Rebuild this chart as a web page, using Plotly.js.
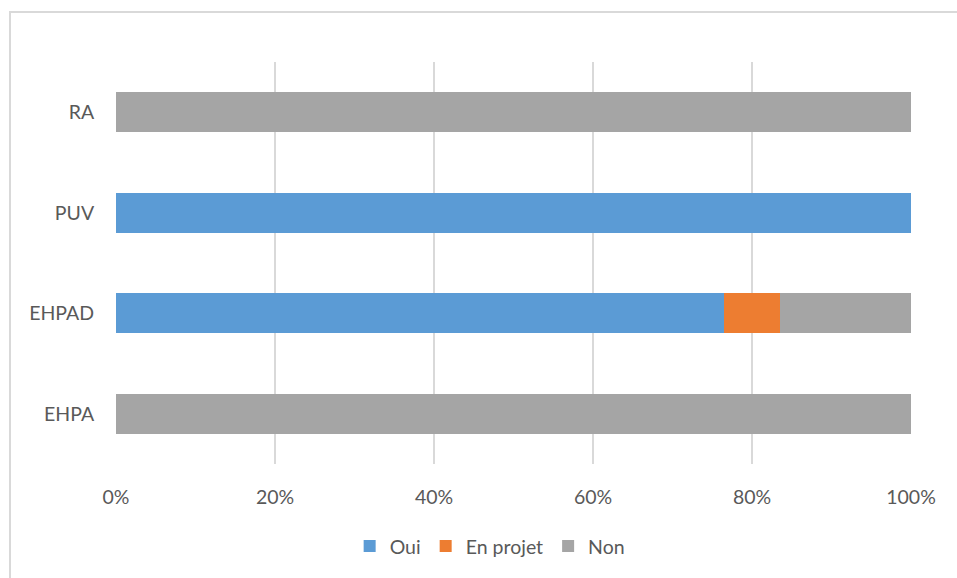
<!DOCTYPE html>
<html>
<head>
<meta charset="utf-8">
<script src="https://cdn.plot.ly/plotly-3.0.1.min.js"></script>
<style>
html,body{margin:0;padding:0;background:#fff;}
#frame{position:absolute;left:9px;top:11px;width:960px;height:580px;border-left:2px solid #d9d9d9;border-top:2px solid #d9d9d9;box-sizing:border-box;pointer-events:none;z-index:5;}
#chart{position:absolute;left:0;top:0;width:957px;height:578px;}
</style>
</head>
<body>
<div id="chart"></div>
<div id="frame"></div>
<script>
const categories = ["EHPA", "EHPAD", "PUV", "RA"];
const seriesNames = ["Oui", "En projet", "Non"];
const oui = [0, 0.765, 1, 0];
const enProjet = [0, 0.07, 0, 0];
const non = [1, 0.165, 0, 1];
const colors = ["#5b9bd5", "#ed7d31", "#a5a5a5"];
const xTickVals = [0, 0.2, 0.4, 0.6, 0.8, 1];
const xTickText = ["0%", "20%", "40%", "60%", "80%", "100%"];

const values = [oui, enProjet, non];
const traces = values.map((v, i) => ({
  type: "bar",
  orientation: "h",
  name: seriesNames[i],
  y: categories,
  x: v,
  marker: {color: colors[i], line: {width: 0}},
  hoverinfo: "x+y+name"
}));

const layout = {
  width: 957,
  height: 578,
  barmode: "stack",
  bargap: 0.605,
  margin: {l: 116, r: 46, t: 62, b: 112},
  paper_bgcolor: "#ffffff",
  plot_bgcolor: "#ffffff",
  font: {family: "Lato, 'Open Sans', sans-serif", size: 19.5, color: "#595959"},
  xaxis: {
    range: [0, 1],
    tickvals: xTickVals,
    ticktext: xTickText,
    showgrid: true,
    gridcolor: "#d9d9d9",
    gridwidth: 2,
    zeroline: false,
    showline: false,
    ticks: "outside",
    ticklen: 16,
    tickcolor: "rgba(0,0,0,0)",
    tickfont: {size: 19.5, color: "#595959"},
    fixedrange: true
  },
  yaxis: {
    categoryorder: "array",
    categoryarray: categories,
    showgrid: false,
    zeroline: false,
    showline: false,
    ticks: "outside",
    ticklen: 17,
    tickcolor: "rgba(0,0,0,0)",
    tickfont: {size: 19.5, color: "#595959"},
    fixedrange: true
  },
  legend: {
    orientation: "h",
    x: 0.47,
    xanchor: "center",
    y: -0.205,
    yanchor: "middle",
    font: {size: 19.5, color: "#595959"},
    itemwidth: 30,
    traceorder: "normal"
  },
  showlegend: true
};

Plotly.newPlot("chart", traces, layout, {displayModeBar: false, staticPlot: false});
</script>
</body>
</html>
